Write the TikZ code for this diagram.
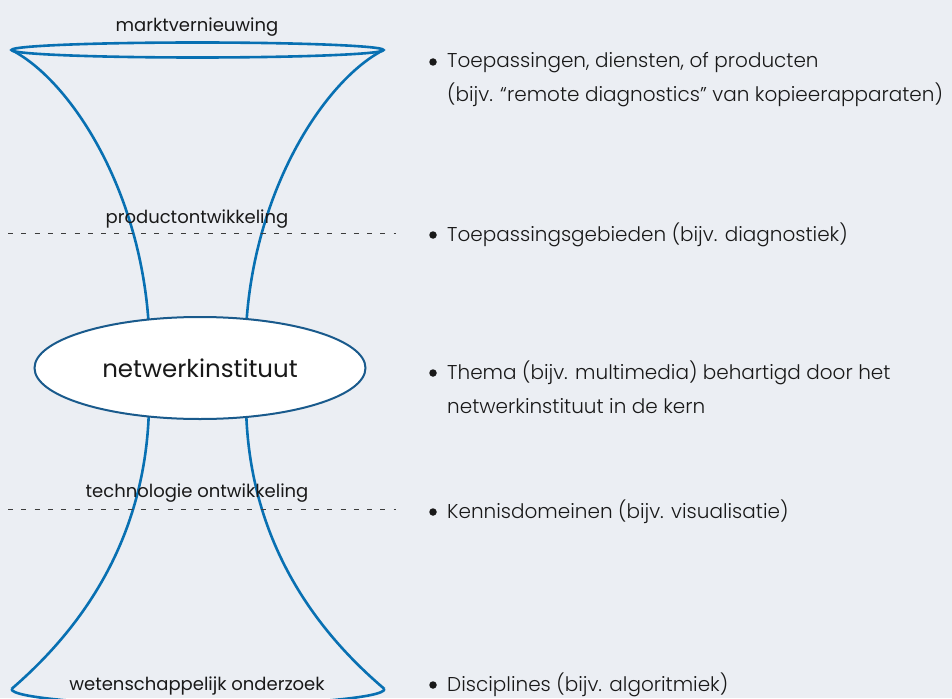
\documentclass[tikz,border=0pt]{standalone}
\usepackage{fontspec}
\usetikzlibrary{shapes.geometric}
\setmainfont{Poppins}
\newfontfamily\lightfont{Poppins Light}
\definecolor{bg}{RGB}{235,238,243}
\definecolor{curve}{RGB}{8,112,178}
\definecolor{rimc}{RGB}{25,90,140}
\definecolor{ink}{RGB}{25,25,25}
\begin{document}
\begin{tikzpicture}[x=1pt,y=-1pt,
  funnel/.style={draw=curve,line width=2.6pt},
  divider/.style={draw=ink!85,dash pattern=on 5pt off 8.3pt,line width=0.8pt},
  lbl/.style={font=\fontsize{18}{20}\selectfont,text=ink,inner sep=0pt,anchor=base},
  item/.style={font=\lightfont\fontsize{20}{30}\selectfont,text=ink,inner sep=0pt,anchor=base west},
  dot/.style={circle,fill=ink,inner sep=0pt,minimum size=7.5pt}]
\fill[bg] (0,0) rectangle (952,698);
\useasboundingbox (0,0) rectangle (952,698);

% rims
\node[ellipse,draw=curve,line width=2.6pt,minimum width=372pt,minimum height=15pt,inner sep=0pt,outer sep=0pt] (rimtop) at (197.5,50) {};
\coordinate (tl) at (149,330);
\coordinate (tr) at (246,330);
\coordinate (bl0) at (149,405);
\coordinate (br0) at (246,405);
\coordinate (bl) at (11.5,689);
\coordinate (br) at (384.5,689);

\draw[funnel] (rimtop.west) .. controls (70,80) and (142,190) .. (tl);
\draw[funnel] (rimtop.east) .. controls (325,80) and (253,190) .. (tr);
\draw[funnel] (bl0) .. controls (147,540) and (80,630) .. (bl);
\draw[funnel] (br0) .. controls (248,540) and (315,630) .. (br);
\draw[funnel] (bl) arc[start angle=180,end angle=360,x radius=186.5pt,y radius=16pt];

% dividers
\coordinate (d1a) at (8,233); \coordinate (d1b) at (396,233);
\coordinate (d2a) at (8,509); \coordinate (d2b) at (396,509);
\draw[divider] (d1a) -- (d1b);
\draw[divider] (d2a) -- (d2b);

% core
\node[ellipse,draw=rimc,fill=white,line width=2pt,minimum width=331pt,minimum height=102pt,inner sep=0pt,
  font=\fontsize{24.5}{28}\selectfont,text=ink] (core) at (200,368) {netwerkinstituut};

% labels
\node[lbl] (l1) at (197,32) {marktvernieuwing};
\node[lbl] (l2) at (197,223) {productontwikkeling};
\node[lbl] (l3) at (197,497) {technologie ontwikkeling};
\node[lbl] (l4) at (197,690.5) {wetenschappelijk onderzoek};

% items
\node[dot] (b1) at (433,62) {};
\node[item] (t1a) at (447,68) {Toepassingen, diensten, of producten};
\node[item] (t1b) at (447,102) {(bijv. “remote diagnostics” van kopieerapparaten)};
\node[dot] (b2) at (433,235) {};
\node[item] (t2) at (447,241) {Toepassingsgebieden (bijv. diagnostiek)};
\node[dot] (b3) at (433,373) {};
\node[item] (t3a) at (447,379) {Thema (bijv. multimedia) behartigd door het};
\node[item] (t3b) at (447,413) {netwerkinstituut in de kern};
\node[dot] (b4) at (433,512) {};
\node[item] (t4) at (447,518) {Kennisdomeinen (bijv. visualisatie)};
\node[dot] (b5) at (433,685) {};
\node[item] (t5) at (447,691) {Disciplines (bijv. algoritmiek)};
\end{tikzpicture}
\end{document}
